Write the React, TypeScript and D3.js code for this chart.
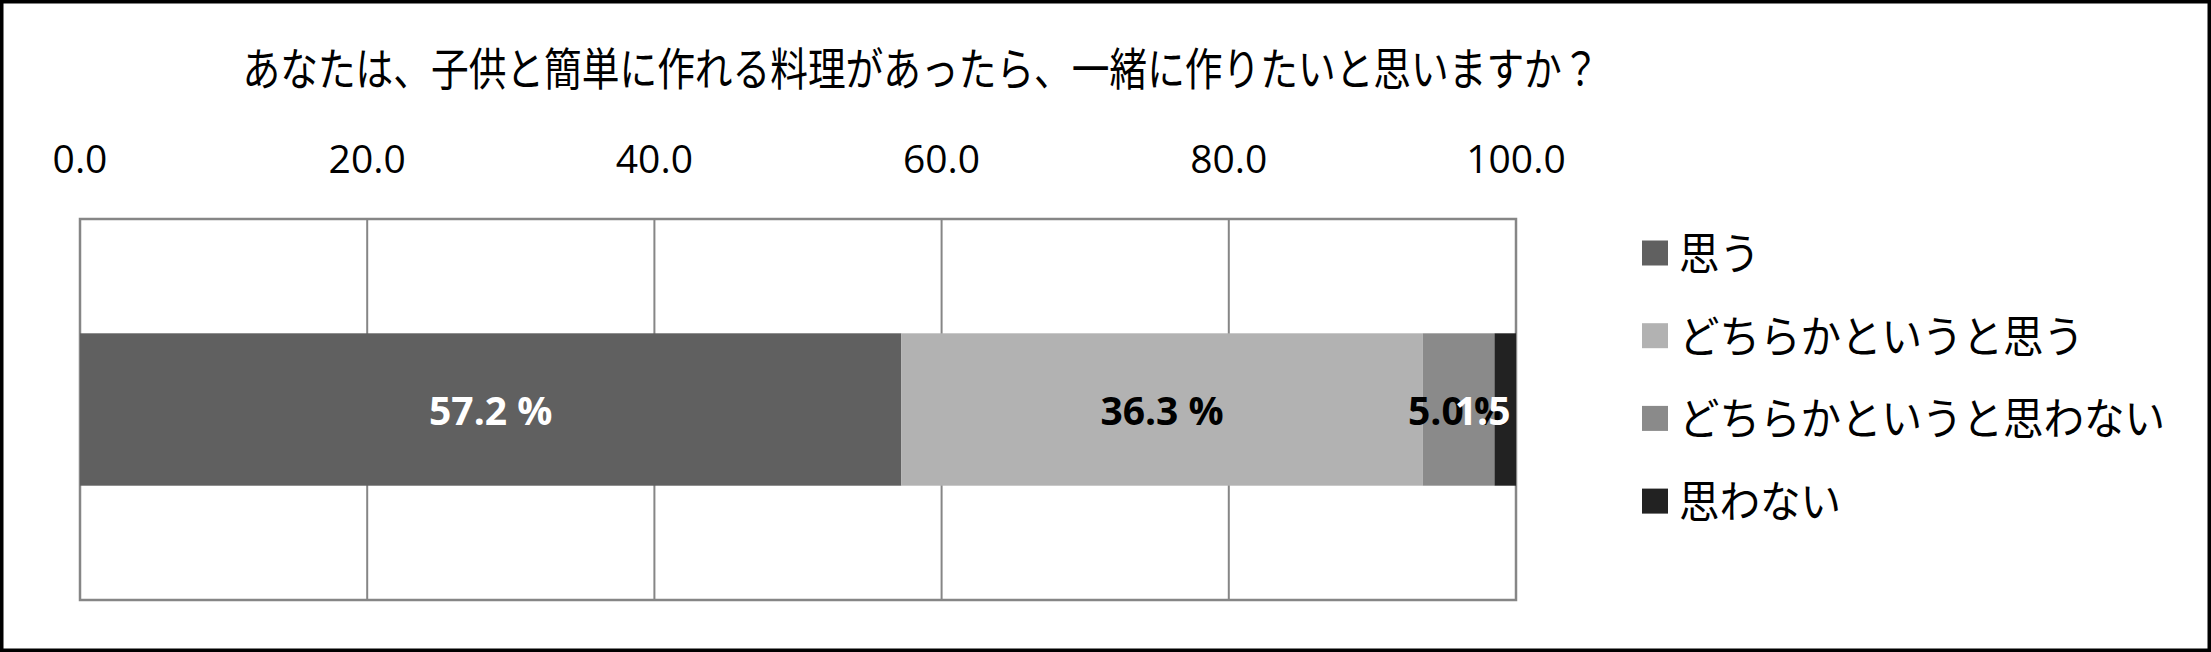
import React from "react";
import * as d3 from "d3";

const title = "あなたは、子供と簡単に作れる料理があったら、一緒に作りたいと思いますか？";
const categories = [""];
const seriesNames = ["思う", "どちらかというと思う", "どちらかというと思わない", "思わない"];
const seriesValues = [57.2, 36.3, 5.0, 1.5];
const seriesColors = ["#606060", "#b2b2b2", "#8a8a8a", "#222222"];
const labelColors = ["#ffffff", "#000000", "#000000", "#ffffff"];
const tickValues = [0, 20, 40, 60, 80, 100];

const W = 2211;
const H = 652;
const plot = { left: 80, right: 1516, top: 219, bottom: 600 };

export default function App() {
  const x = d3.scaleLinear().domain([0, 100]).range([plot.left, plot.right]);
  const y = d3
    .scaleBand<string>()
    .domain(categories)
    .range([plot.top, plot.bottom])
    .paddingInner(0)
    .paddingOuter(0.75);

  const stacked = d3
    .stack<number[]>()
    .keys(seriesNames.map((_, i) => String(i)))
    .value((d, k) => d[+k])([seriesValues]);

  const numFont = "'Open Sans', 'Noto Sans', sans-serif";
  const jpFont = "'Noto Sans CJK JP', sans-serif";

  return (
    <svg
      width={W}
      height={H}
      style={{ position: "absolute", left: 0, top: 0, background: "#fff" }}
    >
      <rect x={0} y={0} width={W} height={H} fill="#fff" />
      <text
        x={921}
        y={66}
        textAnchor="middle"
        dominantBaseline="central"
        fontFamily={jpFont}
        fontSize={45}
        textLength={1357}
        lengthAdjust="spacingAndGlyphs"
        fill="#000"
      >
        {title}
      </text>

      {tickValues.map((t) => (
        <text
          key={"tl" + t}
          x={x(t)}
          y={173}
          textAnchor="middle"
          fontFamily={numFont}
          fontSize={39}
          fill="#000"
        >
          {t.toFixed(1)}
        </text>
      ))}

      {tickValues.map((t) => (
        <line
          key={"g" + t}
          x1={x(t)}
          x2={x(t)}
          y1={plot.top}
          y2={plot.bottom}
          stroke="#868686"
          strokeWidth={2}
        />
      ))}
      <rect
        x={plot.left}
        y={plot.top}
        width={plot.right - plot.left}
        height={plot.bottom - plot.top}
        fill="none"
        stroke="#868686"
        strokeWidth={2.5}
      />

      {stacked.map((s, i) =>
        s.map((d, j) => (
          <rect
            key={"b" + i + "-" + j}
            x={x(d[0])}
            y={y(categories[j])!}
            width={x(d[1]) - x(d[0])}
            height={y.bandwidth()}
            fill={seriesColors[i]}
          />
        ))
      )}

      {stacked.map((s, i) =>
        s.map((d, j) => (
          <text
            key={"l" + i + "-" + j}
            x={(x(d[0]) + x(d[1])) / 2}
            y={y(categories[j])! + y.bandwidth() / 2}
            textAnchor="middle"
            dominantBaseline="central"
            fontFamily={numFont}
            fontWeight="bold"
            fontSize={39}
            fill={labelColors[i]}
          >
            {seriesValues[i].toFixed(1) + " %"}
          </text>
        ))
      )}

      {seriesNames.map((n, i) => {
        const cy = 253 + i * 82.7;
        return (
          <g key={"lg" + i}>
            <rect x={1642} y={cy - 12.5} width={26} height={25} fill={seriesColors[i]} />
            <text
              x={1679}
              y={cy - 2}
              dominantBaseline="central"
              fontFamily={jpFont}
              fontSize={44}
              textLength={n.length * 40.5}
              lengthAdjust="spacingAndGlyphs"
              fill="#000"
            >
              {n}
            </text>
          </g>
        );
      })}

      <rect x={1.5} y={1.5} width={W - 3} height={H - 3} fill="none" stroke="#000" strokeWidth={4} />
    </svg>
  );
}
